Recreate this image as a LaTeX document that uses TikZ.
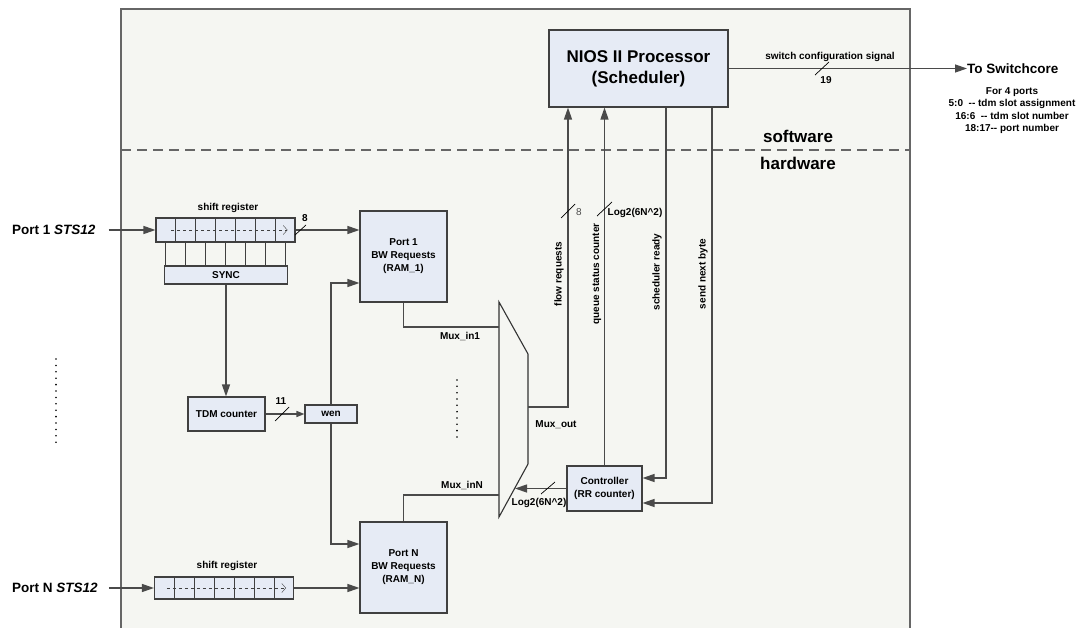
\documentclass[tikz,border=0pt]{standalone}
\usepackage{fontspec}
\setmainfont{Liberation Sans}
\usepackage{tikz}
\usetikzlibrary{arrows.meta, calc}

\definecolor{hwback}{HTML}{F5F6F2}
\definecolor{blkfill}{HTML}{E6EBF5}
\definecolor{wirec}{HTML}{4A4A4A}
\definecolor{framec}{HTML}{666666}

\newcommand{\smallbf}{\fontsize{10}{13}\selectfont\bfseries}
\newcommand{\midbf}{\fontsize{13.5}{16}\selectfont\bfseries}
\newcommand{\bigbf}{\fontsize{17}{21}\selectfont\bfseries}

\begin{document}
\begin{tikzpicture}[x=1pt, y=-1pt,
  blk/.style={draw=black!75, fill=blkfill, line width=1.1pt, inner sep=0pt, align=center, font=\smallbf},
  wire/.style={draw=wirec, line width=1.25pt},
  arr/.style={wire, -{Triangle[length=12pt, width=8pt]}},
  lbl/.style={inner sep=0pt, font=\smallbf},
  portlbl/.style={inner sep=0pt, font=\midbf},
  slash/.style={draw=black, line width=0.7pt}]

\useasboundingbox (0,0) rectangle (1084,628);

% hardware / software area
\fill[hwback] (121,9) rectangle (910,628);
\draw[framec, line width=1.4pt] (121,628) -- (121,9) -- (910,9) -- (910,628);
\draw[framec, dash pattern=on 10pt off 6pt, line width=1.3pt] (121,150) -- (910,150);
\node[lbl, font=\bigbf] (sw) at (798,136) {software};
\node[lbl, font=\bigbf] (hw) at (798,163) {hardware};

% blocks
\node[blk, font=\bigbf, minimum width=179, minimum height=77] (nios) at (638.5,68.5) {NIOS II Processor\\(Scheduler)};
\node[blk, minimum width=87, minimum height=91] (ram1) at (403.5,256.5) {Port 1\\BW Requests\\(RAM\_1)};
\node[blk, minimum width=87, minimum height=91] (ramN) at (403.5,567.5) {Port N\\BW Requests\\(RAM\_N)};
\node[blk, minimum width=75, minimum height=45] (ctrl) at (604.5,488.5) {Controller\\(RR counter)};
\node[blk, minimum width=77, minimum height=34] (tdm) at (226.5,414) {TDM counter};
\node[blk, minimum width=52, minimum height=18] (wen) at (331,414) {wen};
\node[blk, minimum width=123, minimum height=18] (sync) at (226,275) {SYNC};
\node[blk, minimum width=139, minimum height=24] (sr1) at (225.5,230) {};
\node[blk, minimum width=139, minimum height=22] (srN) at (224,588) {};

% shift register cells
\foreach \i in {1,...,6} {
  \draw[black!75] ($(sr1.north west)!\i/7!(sr1.north east)$) -- ($(sr1.south west)!\i/7!(sr1.south east)$);
  \draw[black!75] ($(srN.north west)!\i/7!(srN.north east)$) -- ($(srN.south west)!\i/7!(srN.south east)$);
}
\foreach \i in {1,3,...,13}
  \draw[black!75, line width=1pt] ($(sr1.south west)!\i/14!(sr1.south east)$) -- +(0,24);
\draw[black!75, dashed, -{Straight Barb[length=4pt, width=9pt]}] ([xshift=16pt]sr1.west) -- ([xshift=-8pt]sr1.east);
\draw[black!75, dashed, -{Straight Barb[length=4pt, width=9pt]}] ([xshift=13pt]srN.west) -- ([xshift=-8pt]srN.east);
\node[lbl] (sr1lbl) at (228,208) {shift register};
\node[lbl] (srNlbl) at (227,566) {shift register};

% ports
\node[portlbl, anchor=west] (p1) at (12,230) {Port 1 \textit{STS12}};
\node[portlbl, anchor=west] (pN) at (12,588) {Port N \textit{STS12}};
\draw[arr, shorten <=13pt] (p1.east) -- (sr1.west);
\draw[arr, shorten <=11pt] (pN.east) -- (srN.west);
\draw[arr] (sr1.east) -- (sr1.east -| ram1.west);
\draw[arr] (srN.east) -- (srN.east -| ramN.west);
\draw[slash] (295,235) -- (306,225);
\node[lbl] (w8a) at (305,218) {8};

\draw[arr] (sync.south) -- (sync.south |- tdm.north);
\draw[wire, -{Triangle[length=8pt, width=6pt]}] (tdm.east) -- (wen.west);
\draw[slash] (275,421) -- (289,407);
\node[lbl] (w11) at (281,401) {11};
\draw[arr] (wen.north) |- ([yshift=-26.5pt]ram1.west);
\draw[arr] (wen.south) |- ([yshift=23.5pt]ramN.west);

% mux
\coordinate (mtl) at (499,302);
\coordinate (mtr) at (528,354);
\coordinate (mbr) at (528,464);
\coordinate (mbl) at (499,517);
\draw[black!80, line width=1.1pt] (mtl) -- (mtr) -- (mbr) -- (mbl) -- cycle;
\coordinate (min1) at (499,327);
\coordinate (minN) at (499,495);
\coordinate (mout) at (528,407);
\coordinate (mctl) at (515,488.5);
\draw[wire] (ram1.south) |- (min1);
\draw[wire] (ramN.north) |- (minN);
\node[lbl] (lin1) at (460,336) {Mux\_in1};
\node[lbl] (linN) at (462,485) {Mux\_inN};
\node[lbl] (lout) at (556,425) {Mux\_out};
\foreach \i in {0,...,9}
  \fill (457,380+6.33*\i) circle (0.9pt);
\foreach \i in {0,...,13}
  \fill (56,359+6.4*\i) circle (0.9pt);

% signals to and from the processor
\coordinate (xfr) at (568,0);
\coordinate (xsr) at (666,0);
\coordinate (xsn) at (712,0);
\draw[arr] (mout) -| (xfr |- nios.south);
\draw[arr] (ctrl.north) -- (ctrl.north |- nios.south);
\draw[arr] (xsr |- nios.south) |- ([yshift=10.5pt]ctrl.east);
\draw[arr] (xsn |- nios.south) |- ([yshift=-14.5pt]ctrl.east);
\draw[arr] (ctrl.west) -- (mctl);

\draw[slash] (561,218) -- (575,204);
\node[inner sep=0pt, font=\fontsize{10}{12}\selectfont, text=black!70] (w8b) at (579,212) {8};
\draw[slash] (597,216) -- (612,202);
\node[lbl] (wlog1) at (635,213) {Log2(6N\textasciicircum2)};
\draw[slash] (541,494) -- (555,482);
\node[lbl] (wlog2) at (539,503) {Log2(6N\textasciicircum2)};

\node[lbl, rotate=90] (lfr) at (559,274) {flow requests};
\node[lbl, rotate=90] (lqs) at (597,274) {queue status counter};
\node[lbl, rotate=90] (lsr) at (657,272) {scheduler ready};
\node[lbl, rotate=90] (lsn) at (703,274) {send next byte};

% to switchcore
\node[portlbl, anchor=west] (sc) at (967,68.5) {To Switchcore};
\draw[arr] (nios.east) -- (sc.west);
\node[lbl] (lcfg) at (830,57) {switch configuration signal};
\draw[slash] (815,75) -- (829,62);
\node[lbl] (w19) at (826,80) {19};
\node[lbl, align=center, font=\fontsize{10}{12.4}\selectfont\bfseries] (notes) at (1012,110.5)
  {For 4 ports\\5:0 \ {-}{-} tdm slot assignment\\16:6 \ {-}{-} tdm slot number\\18:17{-}{-} port number};
\end{tikzpicture}
\end{document}
